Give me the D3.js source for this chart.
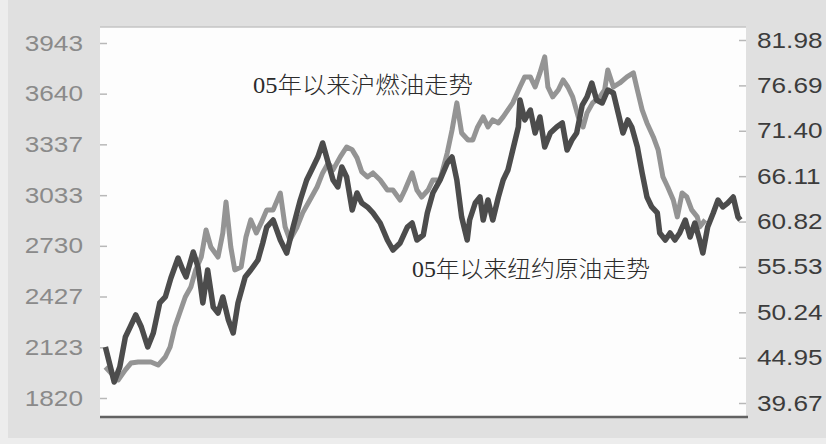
<!DOCTYPE html>
<html>
<head>
<meta charset="utf-8">
<script src="https://cdn.jsdelivr.net/npm/d3@7"></script>
<style>
  body { margin: 0; background: #ededed; }
  svg { display: block; }
</style>
</head>
<body>
<svg width="826" height="444"></svg>
<script>
const svg = d3.select('svg');

const width = +svg.attr('width');
const height = +svg.attr('height');

// left axis: 沪燃油 (元/吨), right axis: 纽约原油 (美元/桶)
const fuelTicks = [1820, 2123, 2427, 2730, 3033, 3337, 3640, 3943];
const crudeTicks = [39.67, 44.95, 50.24, 55.53, 60.82, 66.11, 71.40, 76.69, 81.98];

// days since start of 2005
const crudeDays = [
  3, 14, 21, 28, 34, 41, 48, 56, 63, 71,
  78, 85, 94, 100, 104, 113, 119, 125, 131, 138,
  144, 150, 157, 163, 169, 178, 185, 194, 200, 205,
  213, 222, 230, 238, 247, 255, 263, 269, 275, 282,
  288, 294, 299, 305, 312, 318, 324, 331, 338, 347,
  356, 363, 372, 381, 387, 393, 401, 406, 413, 422,
  431, 437, 443, 449, 456, 459, 466, 472, 476, 482,
  488, 495, 501, 507, 513, 520, 522, 528, 535, 541,
  547, 553, 560, 568, 575, 581, 587, 593, 600, 606,
  612, 618, 625, 632, 639, 645, 651, 657, 662, 669,
  675, 681, 687, 694, 697, 704, 710, 716, 722, 729,
  735, 741, 747, 751, 757, 764, 770, 776, 782, 789,
  795, 798
];
const crudePrices = [
  46.20, 42.12, 43.87, 47.36, 48.53, 49.93, 48.53, 46.20, 47.83, 51.33,
  52.03, 54.24, 56.57, 55.17, 54.36, 57.27, 55.52, 51.33, 55.17, 50.86,
  50.16, 52.03, 49.34, 47.83, 51.33, 54.36, 55.17, 56.34, 58.32, 60.18,
  61.00, 58.67, 57.15, 60.18, 63.33, 65.66, 67.18, 68.34, 69.98, 67.64,
  65.66, 64.85, 67.18, 66.01, 62.17, 64.15, 62.98, 62.52, 61.82, 60.65,
  58.67, 57.50, 58.32, 60.18, 60.65, 58.67, 59.25, 61.82, 64.15, 65.66,
  67.64, 68.34, 65.66, 61.35, 58.67, 61.00, 62.98, 63.68, 61.00, 63.33,
  61.00, 63.68, 65.66, 66.83, 69.16, 71.84, 74.99, 72.66, 73.82, 71.14,
  73.01, 69.51, 71.14, 71.84, 72.31, 69.16, 70.32, 71.14, 74.40, 75.34,
  76.97, 74.99, 74.64, 76.15, 75.80, 73.47, 71.14, 72.66, 71.84, 69.51,
  66.48, 63.68, 62.52, 61.82, 59.49, 58.67, 59.49, 58.67, 59.49, 61.00,
  59.02, 60.65, 58.67, 57.15, 60.18, 61.82, 63.33, 62.52, 62.98, 63.68,
  61.35, 61.00
];

const fuelDays = [
  3, 10, 19, 28, 35, 44, 53, 60, 69, 78,
  84, 90, 96, 103, 110, 116, 123, 129, 135, 144,
  150, 154, 160, 165, 173, 179, 185, 192, 198, 205,
  213, 222, 228, 234, 243, 250, 259, 268, 275, 282,
  288, 297, 305, 312, 318, 324, 331, 338, 347, 356,
  363, 372, 378, 387, 393, 399, 407, 413, 422, 431,
  437, 443, 449, 457, 463, 469, 476, 482, 488, 495,
  501, 507, 513, 522, 528, 535, 541, 547, 553, 557,
  563, 570, 576, 582, 588, 595, 601, 606, 613, 622,
  628, 632, 639, 647, 656, 664, 669, 675, 681, 689,
  695, 701, 707, 714, 719, 725, 731, 737, 744, 747,
  754
];
const fuelPrices = [
  2005, 1970, 1928, 1988, 2029, 2035, 2035, 2035, 2017, 2065,
  2125, 2245, 2328, 2424, 2484, 2586, 2663, 2825, 2723, 2663,
  2807, 2992, 2723, 2586, 2604, 2783, 2885, 2807, 2867, 2945,
  2945, 3046, 2843, 2765, 2843, 2927, 3004, 3082, 3166, 3226,
  3184, 3262, 3321, 3304, 3256, 3172, 3142, 3166, 3124, 3064,
  3064, 3004, 3064, 3166, 3064, 3022, 3064, 3124, 3124, 3286,
  3423, 3585, 3405, 3363, 3363, 3441, 3501, 3441, 3483, 3465,
  3501, 3543, 3585, 3680, 3740, 3740, 3680, 3764, 3860, 3680,
  3621, 3662, 3722, 3680, 3621, 3501, 3441, 3525, 3585, 3621,
  3662, 3782, 3680, 3704, 3740, 3764, 3662, 3543, 3465, 3381,
  3304, 3142, 3082, 3004, 2903, 3046, 3022, 2945, 2903, 2843,
  2885
];

const labels = [
  { text: '05年以来沪燃油走势', x: 253, y: 93, w: 220 },
  { text: '05年以来纽约原油走势', x: 412, y: 277, w: 238 }
];

const plot = { left: 100, right: 746, top: 27, bottom: 417 };
const stretch = 1.19;

const crude = crudeDays.map((d, i) => ({ day: d, value: crudePrices[i] }));
const fuel = fuelDays.map((d, i) => ({ day: d, value: fuelPrices[i] }));

const xScale = d3.scaleLinear()
  .domain([0, 800])
  .range([103, 742]);

const yFuel = d3.scaleLinear()
  .domain([fuelTicks[0], fuelTicks[fuelTicks.length - 1]])
  .range([398, 43]);

const yCrude = d3.scaleLinear()
  .domain([crudeTicks[0], crudeTicks[crudeTicks.length - 1]])
  .range([403, 40]);

/* background */
svg.append('rect')
  .attr('x', 8).attr('y', 0)
  .attr('width', width - 8).attr('height', 438)
  .attr('fill', '#e0e0e0');

svg.append('rect')
  .attr('x', plot.left).attr('y', plot.top)
  .attr('width', plot.right - plot.left)
  .attr('height', plot.bottom - plot.top)
  .attr('fill', '#fdfdfd');

svg.append('line')
  .attr('x1', plot.left).attr('x2', plot.right)
  .attr('y1', plot.top).attr('y2', plot.top)
  .attr('stroke', '#c4c4c4')
  .attr('stroke-width', 1.5);

/* axes */
const stretchText = (g) => {
  g.selectAll('text').each(function() {
    const t = d3.select(this);
    const x = +t.attr('x');
    t.attr('x', 0)
      .attr('transform', `translate(${x},0) scale(${stretch},1)`);
  });
};

const leftAxisG = svg.append('g')
  .attr('transform', `translate(${plot.left},0)`)
  .call(d3.axisLeft(yFuel)
    .tickValues(fuelTicks)
    .tickFormat(d3.format('d'))
    .tickSize(-7)
    .tickPadding(17));
leftAxisG.select('.domain').remove();
leftAxisG.selectAll('line')
  .attr('stroke', '#b8b8b8')
  .attr('stroke-width', 1.5);
leftAxisG.selectAll('text')
  .attr('font-family', '"Liberation Sans", Arial, sans-serif')
  .attr('font-size', 22)
  .attr('fill', '#8a8a8a');
leftAxisG.selectAll('.tick').each(function() {
  const t = d3.select(this).select('text');
  t.attr('text-anchor', 'start')
    .attr('x', -17 - this.querySelector('text').getComputedTextLength() * stretch);
});
leftAxisG.call(stretchText);

const rightAxisG = svg.append('g')
  .attr('transform', `translate(${plot.right},0)`)
  .call(d3.axisRight(yCrude)
    .tickValues(crudeTicks)
    .tickFormat(d3.format('.2f'))
    .tickSize(-7)
    .tickPadding(11));
rightAxisG.select('.domain').remove();
rightAxisG.selectAll('line')
  .attr('stroke', '#b8b8b8')
  .attr('stroke-width', 1.5);
rightAxisG.selectAll('text')
  .attr('font-family', '"Liberation Sans", Arial, sans-serif')
  .attr('font-size', 22)
  .attr('fill', '#3c3c3c');
rightAxisG.call(stretchText);

/* lines */
const lineFuel = d3.line()
  .x(d => xScale(d.day))
  .y(d => yFuel(d.value));

const lineCrude = d3.line()
  .x(d => xScale(d.day))
  .y(d => yCrude(d.value));

svg.append('path')
  .datum(fuel)
  .attr('d', lineFuel)
  .attr('fill', 'none')
  .attr('stroke', '#949494')
  .attr('stroke-width', 5)
  .attr('stroke-linejoin', 'round');

svg.append('path')
  .datum(crude)
  .attr('d', lineCrude)
  .attr('fill', 'none')
  .attr('stroke', '#4c4c4c')
  .attr('stroke-width', 5.5)
  .attr('stroke-linejoin', 'round');

/* bottom axis line */
svg.append('line')
  .attr('x1', plot.left).attr('x2', plot.right + 2)
  .attr('y1', plot.bottom).attr('y2', plot.bottom)
  .attr('stroke', '#626262')
  .attr('stroke-width', 2.5);

/* annotations */
svg.selectAll('text.note')
  .data(labels)
  .join('text')
  .attr('class', 'note')
  .attr('x', d => d.x)
  .attr('y', d => d.y)
  .attr('textLength', d => d.w)
  .attr('lengthAdjust', 'spacingAndGlyphs')
  .attr('font-family', '"Liberation Serif", "Noto Sans CJK SC", serif')
  .attr('font-size', 23)
  .attr('font-weight', 300)
  .attr('fill', '#2b2b2b')
  .text(d => d.text);
</script>
</body>
</html>
